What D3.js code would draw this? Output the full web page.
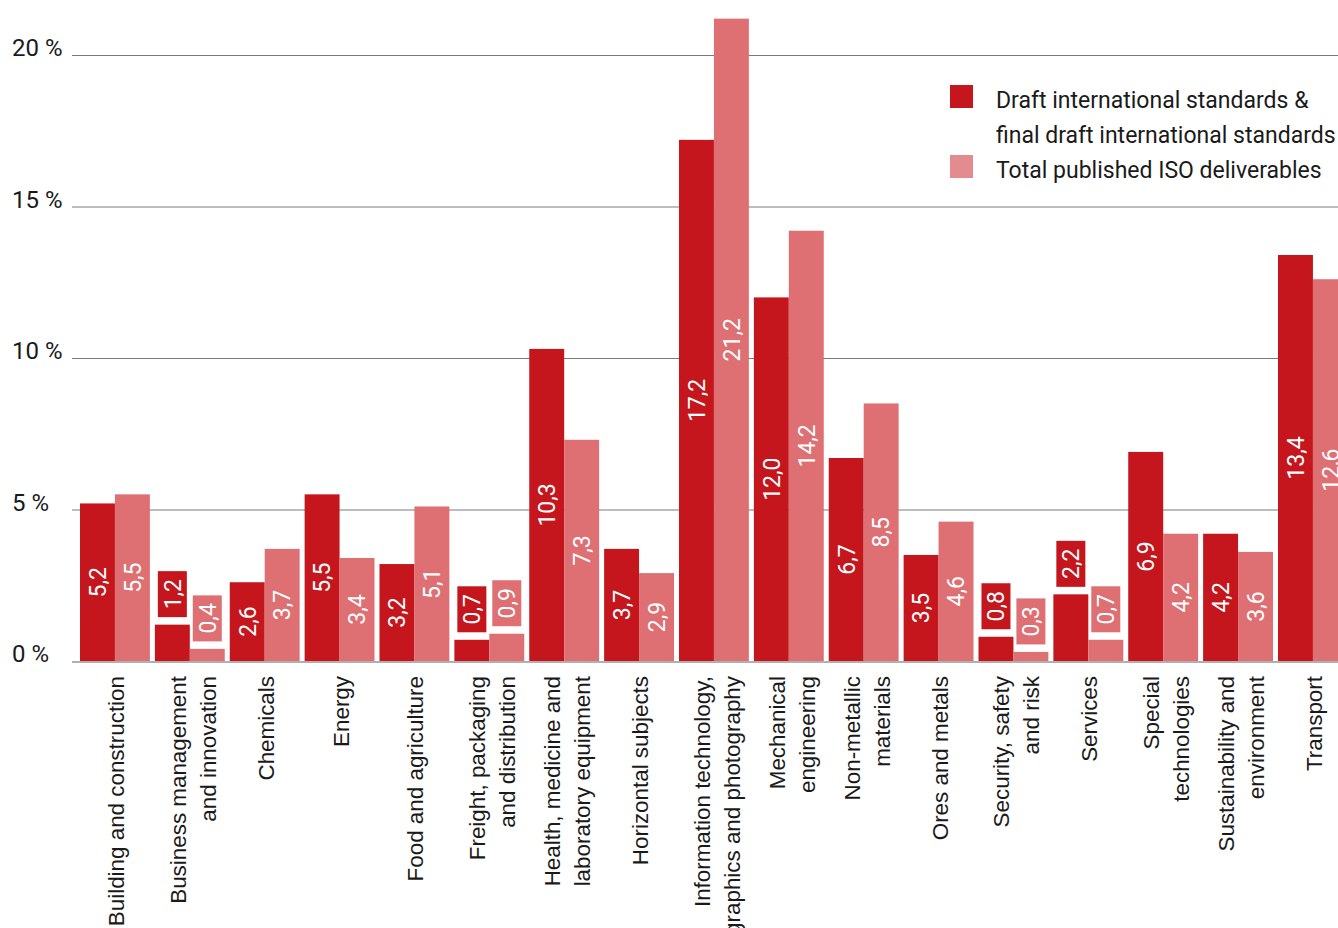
<!DOCTYPE html>
<html>
<head>
<meta charset="utf-8">
<script src="https://cdn.jsdelivr.net/npm/d3@7"></script>
<style>
  html, body { margin: 0; padding: 0; background: #fff; overflow: hidden; }
  svg { display: block; }
</style>
</head>
<body>
<svg id="chart" width="1338" height="928"></svg>
<script>
// Share of ISO work by technical sector (%)
const categories = [
  ["Building and construction"],
  ["Business management", "and innovation"],
  ["Chemicals"],
  ["Energy"],
  ["Food and agriculture"],
  ["Freight, packaging", "and distribution"],
  ["Health, medicine and", "laboratory equipment"],
  ["Horizontal subjects"],
  ["Information technology,", "graphics and photography"],
  ["Mechanical", "engineering"],
  ["Non-metallic", "materials"],
  ["Ores and metals"],
  ["Security, safety", "and risk"],
  ["Services"],
  ["Special", "technologies"],
  ["Sustainability and", "environment"],
  ["Transport"]
];
const draftValues = [5.2, 1.2, 2.6, 5.5, 3.2, 0.7, 10.3, 3.7, 17.2, 12.0, 6.7, 3.5, 0.8, 2.2, 6.9, 4.2, 13.4];
const publishedValues = [5.5, 0.4, 3.7, 3.4, 5.1, 0.9, 7.3, 2.9, 21.2, 14.2, 8.5, 4.6, 0.3, 0.7, 4.2, 3.6, 12.6];
const seriesNames = ["Draft international standards &\nfinal draft international standards", "Total published ISO deliverables"];
const yTicks = [0, 5, 10, 15, 20];

const colors = { draft: "#c4161c", published: "#de6f73" };
const legendColors = ["#c4161c", "#e48b8f"];

const svg = d3.select("#chart");
const W = 1338;

const step = 74.875;
const x0 = d3.scaleBand()
  .domain(d3.range(categories.length))
  .range([80 - 2.5, 80 - 2.5 + categories.length * step])
  .paddingInner(5 / step)
  .paddingOuter(2.5 / step);
const x1 = d3.scaleBand()
  .domain(["draft", "published"])
  .range([0, x0.bandwidth()]);
const y = d3.scaleLinear().domain([0, 20]).range([661, 55]);

// grid lines behind the bars
svg.append("g").selectAll("line")
  .data(yTicks.filter(d => d > 0))
  .join("line")
  .attr("x1", 72).attr("x2", W)
  .attr("y1", d => y(d) + 0.5).attr("y2", d => y(d) + 0.5)
  .attr("stroke", "#7a7a7a").attr("stroke-width", 1);

// y tick labels
svg.append("g").selectAll("text")
  .data(yTicks)
  .join("text")
  .attr("x", 12)
  .attr("y", d => y(d) + 1)
  .attr("font-family", "Roboto, sans-serif")
  .attr("font-size", 24)
  .attr("fill", "#1a1a1a")
  .text(d => d + " %");

// bars
const rows = categories.map((c, i) => ({ i, draft: draftValues[i], published: publishedValues[i] }));
const groups = svg.append("g").selectAll("g")
  .data(rows)
  .join("g")
  .attr("transform", d => `translate(${x0(d.i)},0)`);

const cells = groups.selectAll("g.cell")
  .data(d => ["draft", "published"].map(k => ({ key: k, value: d[k] })))
  .join("g").attr("class", "cell");

cells.append("rect")
  .attr("x", d => x1(d.key))
  .attr("width", x1.bandwidth())
  .attr("y", d => y(d.value))
  .attr("height", d => y(0) - y(d.value))
  .attr("fill", d => colors[d.key]);

// value labels: inside the bar when it fits, otherwise in a small box above it
const fmt = v => d3.format(".1f")(v).replace(".", ",");
cells.each(function(d) {
  const g = d3.select(this);
  const cx = x1(d.key) + x1.bandwidth() / 2;
  const barH = y(0) - y(d.value);
  const t = g.append("text")
    .attr("font-family", "Roboto, sans-serif")
    .attr("font-size", 23)
    .attr("fill", "#fff")
    .attr("text-anchor", "middle")
    .attr("dy", "0.36em")
    .text(fmt(d.value));
  const len = t.node().getComputedTextLength();
  let cy;
  if (barH >= len + 40) {
    cy = (y(0) + y(d.value)) / 2;
  } else {
    const boxH = 46, boxW = 29, gap = 7.5;
    const top = y(d.value) - gap - boxH;
    g.insert("rect", "text")
      .attr("x", cx - boxW / 2)
      .attr("y", top)
      .attr("width", boxW)
      .attr("height", boxH)
      .attr("fill", colors[d.key]);
    cy = top + boxH / 2;
  }
  t.attr("transform", `translate(${cx},${cy}) rotate(-90)`);
});

// baseline
svg.append("line")
  .attr("x1", 72).attr("x2", W)
  .attr("y1", y(0) + 1).attr("y2", y(0) + 1)
  .attr("stroke", "#b0b0b0").attr("stroke-width", 2);

// category labels, rotated
const labels = svg.append("g").selectAll("text")
  .data(categories)
  .join("text")
  .attr("transform", (d, i) => `translate(${x0(i) + x0.bandwidth() / 2},676) rotate(-90)`)
  .attr("text-anchor", "end")
  .attr("font-family", "'Liberation Sans', Arial, sans-serif")
  .attr("font-size", 22.4)
  .attr("fill", "#1a1a1a");
labels.each(function(lines) {
  const t = d3.select(this);
  const offs = lines.length === 1 ? [9] : [-4, 26];
  lines.forEach((ln, k) => {
    t.append("tspan").attr("x", 0).attr("y", offs[k]).text(ln);
  });
});

// legend
const legend = svg.append("g").attr("font-family", "Roboto, sans-serif").attr("font-size", 23).attr("fill", "#1a1a1a");
const legendRows = [
  { color: legendColors[0], lines: seriesNames[0].split("\n"), top: 85 },
  { color: legendColors[1], lines: seriesNames[1].split("\n"), top: 155 }
];
legendRows.forEach(r => {
  legend.append("rect").attr("x", 950).attr("y", r.top).attr("width", 23).attr("height", 23).attr("fill", r.color);
  r.lines.forEach((ln, k) => {
    legend.append("text").attr("x", 996).attr("y", r.top + 23 + k * 35).text(ln);
  });
});
</script>
</body>
</html>
